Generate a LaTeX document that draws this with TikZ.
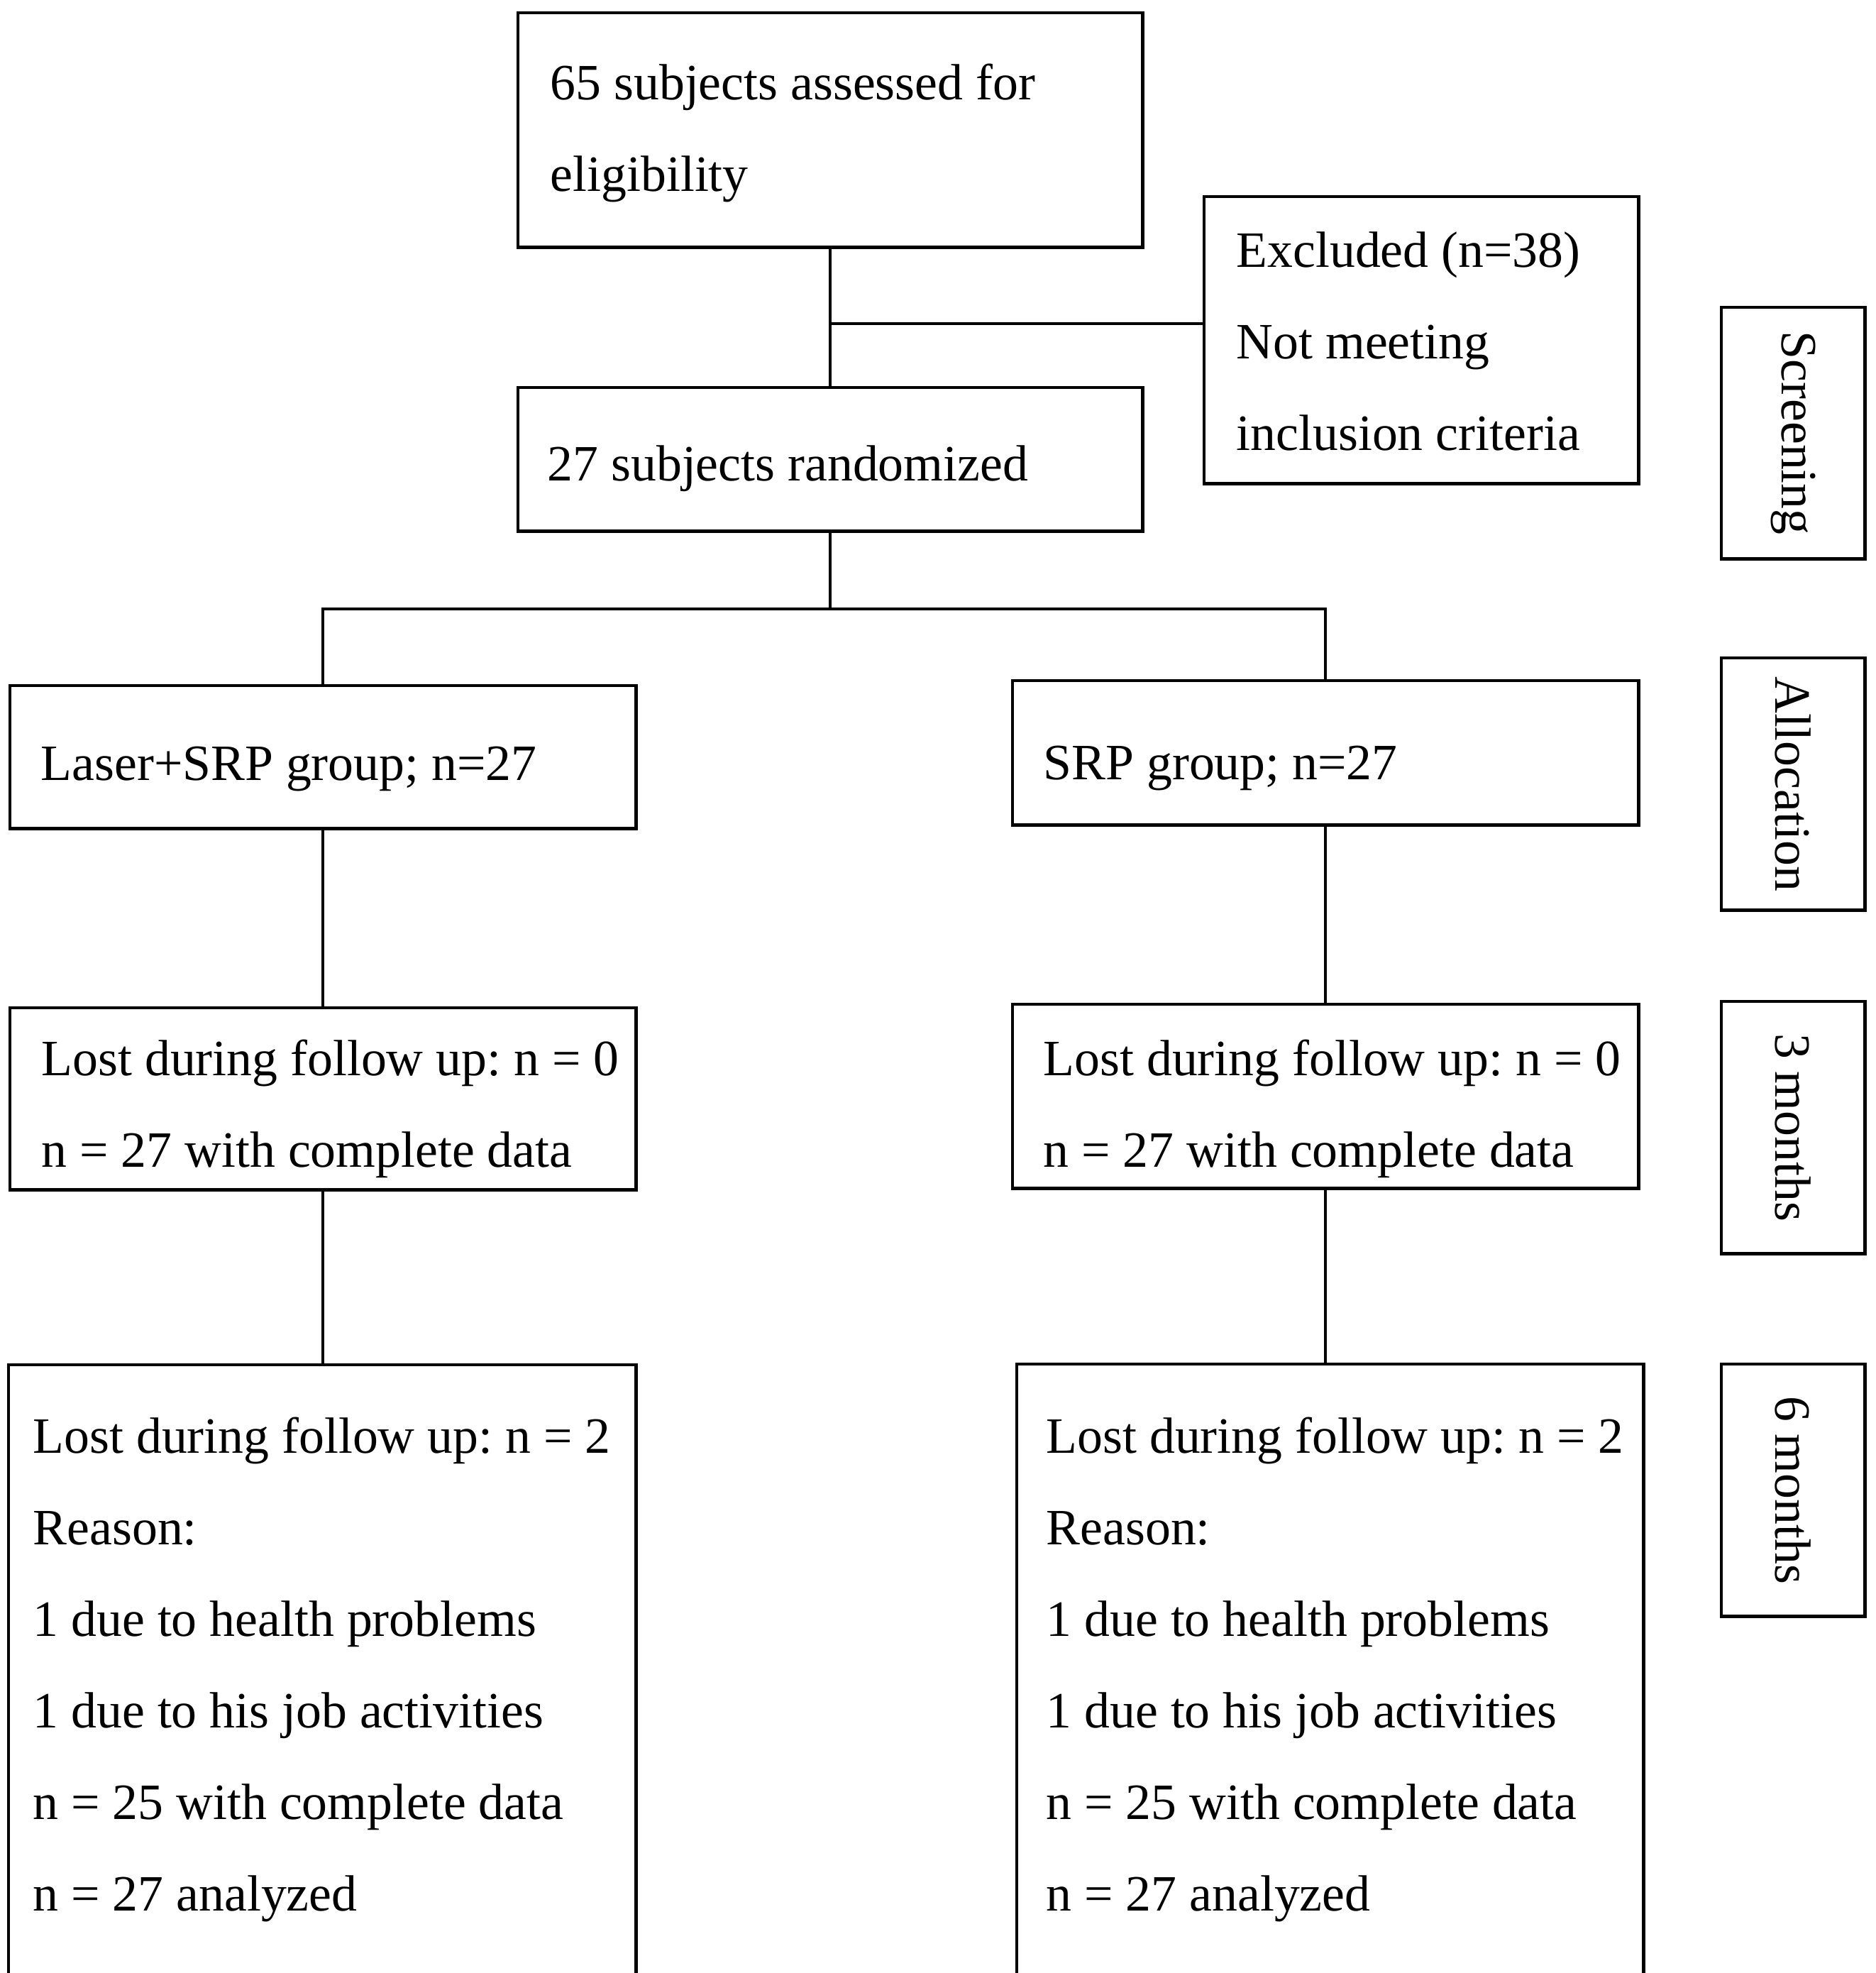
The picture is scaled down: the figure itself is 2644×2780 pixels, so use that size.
\documentclass[tikz,border=0pt]{standalone}
\usepackage{fontspec}
\setmainfont{Liberation Serif}
\frenchspacing
\newcommand\boxlines[1]{\begin{tabular}[t]{@{}l@{}}#1\end{tabular}}
\begin{document}
\begin{tikzpicture}[x=0.01cm,y=-0.01cm,
  box/.style={draw, line width=1.4pt, rectangle, inner sep=0pt, outer sep=0pt, anchor=north west},
  txt/.style={anchor=base west, inner sep=0pt, font=\fontsize{20.4pt}{36.7pt}\selectfont},
  side/.style={anchor=center, inner sep=0pt, rotate=-90, font=\fontsize{20.4pt}{36.7pt}\selectfont},
  conn/.style={line width=1.2pt}]
\useasboundingbox (0,0) rectangle (2644,2780);
\clip (0,0) rectangle (2644,2780);
% boxes
\node[box, minimum width=8.80cm, minimum height=3.30cm] (a) at (730,18) {};
\node[box, minimum width=6.12cm, minimum height=4.04cm] (ex) at (1697,277) {};
\node[box, minimum width=8.80cm, minimum height=2.02cm] (r) at (730,546) {};
\node[box, minimum width=8.82cm, minimum height=2.01cm] (lg) at (14,966) {};
\node[box, minimum width=8.82cm, minimum height=2.03cm] (rg) at (1427,959) {};
\node[box, minimum width=8.82cm, minimum height=2.56cm] (l3) at (14,1420) {};
\node[box, minimum width=8.82cm, minimum height=2.59cm] (r3) at (1427,1415) {};
\node[box, minimum width=8.84cm, minimum height=10.00cm] (l6) at (12,1923) {};
\node[box, minimum width=8.83cm, minimum height=10.00cm] (r6) at (1433,1922) {};
% side boxes
\node[box, minimum width=2.02cm, minimum height=3.54cm] (s1) at (2426,433) {};
\node[box, minimum width=2.02cm, minimum height=3.55cm] (s2) at (2426,927) {};
\node[box, minimum width=2.02cm, minimum height=3.55cm] (s3) at (2426,1411) {};
\node[box, minimum width=2.02cm, minimum height=3.55cm] (s4) at (2426,1922) {};
% texts
\node[txt] (ta) at (775,140) {\boxlines{65 subjects assessed for\\eligibility}};
\node[txt] (tex) at (1742,376) {\boxlines{Excluded (n=38)\\Not meeting\\inclusion criteria}};
\node[txt] (tr) at (771,677) {27 subjects randomized};
\node[txt] (tlg) at (57,1099) {Laser+SRP group; n=27};
\node[txt] (trg) at (1470,1098) {SRP group; n=27};
\node[txt] (tl3) at (58,1515) {\boxlines{Lost during follow up: n = 0\\n = 27 with complete data}};
\node[txt] (tr3) at (1470,1515) {\boxlines{Lost during follow up: n = 0\\n = 27 with complete data}};
\node[txt] (tl6) at (46,2047) {\boxlines{Lost during follow up: n = 2\\Reason:\\1 due to health problems\\1 due to his job activities\\n = 25 with complete data\\n = 27 analyzed}};
\node[txt] (tr6) at (1474,2047) {\boxlines{Lost during follow up: n = 2\\Reason:\\1 due to health problems\\1 due to his job activities\\n = 25 with complete data\\n = 27 analyzed}};
\node[side] (ts1) at (s1.center) {Screening};
\node[side] (ts2) at (s2.center) {Allocation};
\node[side] (ts3) at (s3.center) {3 months};
\node[side] (ts4) at (s4.center) {6 months};
% connectors
\draw[conn] (a.south) -- (r.north);
\path (a.south) ++(0,108) coordinate (j1);
\draw[conn] (j1) -- (ex.west |- j1);
\draw[conn] (r.south) -- ++(0,110) coordinate (j2);
\draw[conn] (lg.north) -- (lg.north |- j2) -- (rg.north |- j2) -- (rg.north);
\draw[conn] (lg.south) -- (l3.north);
\draw[conn] (rg.south) -- (r3.north);
\draw[conn] (l3.south) -- (l3.south |- l6.north);
\draw[conn] (r3.south) -- (r3.south |- r6.north);
\end{tikzpicture}
\end{document}
